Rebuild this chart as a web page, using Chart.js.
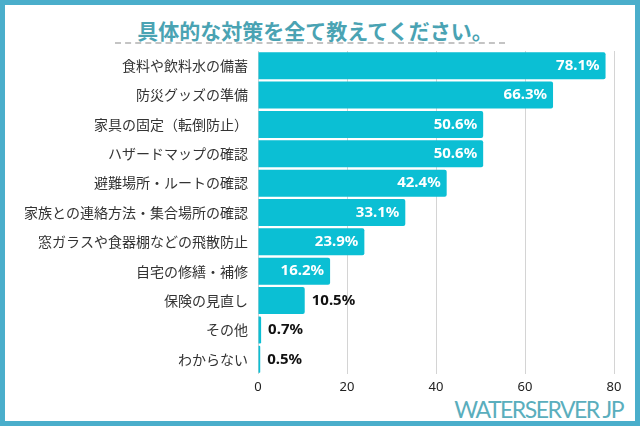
<!DOCTYPE html>
<html>
<head>
<meta charset="utf-8">
<script src="https://cdn.jsdelivr.net/npm/chart.js@4.4.1/dist/chart.umd.min.js"></script>
<style>
  html, body { margin: 0; padding: 0; }
  body { width: 640px; height: 426px; overflow: hidden; background: #4aaecb; position: relative; }
  #frame { position: absolute; left: 5px; top: 5px; width: 630px; height: 416px; background: #fff; }
  #chart { position: absolute; left: 0; top: 0; }
  #title {
    position: absolute; left: 0; width: 630px; top: 13px; text-align: center;
    font-family: "Noto Sans CJK JP", sans-serif; font-weight: bold; font-size: 21px;
    color: #4aa3b3; line-height: 24px; padding-right: 10px; box-sizing: border-box;
  }
  #rule {
    position: absolute; left: 110px; top: 37px; width: 390px; height: 0;
    border-top: 2px dashed #c4c4c4;
  }
  #logo {
    position: absolute; right: 12px; top: 391px; font-family: "Lato", sans-serif;
    font-size: 23px; color: #5aaebd; letter-spacing: -1.5px; line-height: 26px;
  }
</style>
</head>
<body>
<div id="frame">
  <div id="title">具体的な対策を全て教えてください。</div>
  <div id="rule"></div>
  <div id="logo">WATERSERVER JP</div>
</div>
<canvas id="chart" width="640" height="426"></canvas>
<script>
const categories = [
  "食料や飲料水の備蓄",
  "防災グッズの準備",
  "家具の固定（転倒防止）",
  "ハザードマップの確認",
  "避難場所・ルートの確認",
  "家族との連絡方法・集合場所の確認",
  "窓ガラスや食器棚などの飛散防止",
  "自宅の修繕・補修",
  "保険の見直し",
  "その他",
  "わからない",
];
const percentages = [78.1, 66.3, 50.6, 50.6, 42.4, 33.1, 23.9, 16.2, 10.5, 0.7, 0.5];
const xTicks = [0, 20, 40, 60, 80];

const barColour = "#0bbfd4";

const valueLabels = {
  id: "valueLabels",
  afterDatasetsDraw(chart) {
    const ctx = chart.ctx;
    const meta = chart.getDatasetMeta(0);
    ctx.save();
    ctx.font = "bold 15px 'Noto Sans', sans-serif";
    ctx.textBaseline = "middle";
    meta.data.forEach((bar, index) => {
      const value = percentages[index];
      const text = value.toFixed(1) + "%";
      if (value >= 15) {
        ctx.fillStyle = "#ffffff";
        ctx.textAlign = "right";
        ctx.fillText(text, bar.x - 6, bar.y);
      } else {
        ctx.fillStyle = "#111111";
        ctx.textAlign = "left";
        ctx.fillText(text, bar.x + 7, bar.y);
      }
    });
    ctx.restore();
  },
};

new Chart(document.getElementById("chart"), {
  type: "bar",
  data: {
    labels: categories,
    datasets: [
      {
        data: percentages,
        backgroundColor: barColour,
        borderRadius: 2,
        borderSkipped: "start",
        categoryPercentage: 0.92,
        barPercentage: 1,
      },
    ],
  },
  options: {
    indexAxis: "y",
    responsive: false,
    animation: false,
    layout: { padding: { left: 0, right: 26, top: 51, bottom: 32 } },
    plugins: { legend: { display: false }, tooltip: { enabled: false } },
    scales: {
      x: {
        min: 0,
        max: 80,
        afterBuildTicks: (scale) => {
          scale.ticks = xTicks.map((v) => ({ value: v }));
        },
        afterFit: (scale) => {
          scale.height = 20;
        },
        grid: { color: "#d4d4d4", drawTicks: false },
        border: { display: false },
        ticks: {
          padding: 5,
          color: "#222",
          font: { family: "'Noto Sans', sans-serif", size: 13 },
        },
      },
      y: {
        afterFit: (scale) => {
          scale.width = 258;
        },
        grid: { display: false },
        border: { display: false },
        ticks: {
          padding: 2,
          color: "#333",
          font: { family: "'Noto Sans CJK JP', sans-serif", size: 14 },
        },
      },
    },
  },
  plugins: [valueLabels],
});
</script>
</body>
</html>
